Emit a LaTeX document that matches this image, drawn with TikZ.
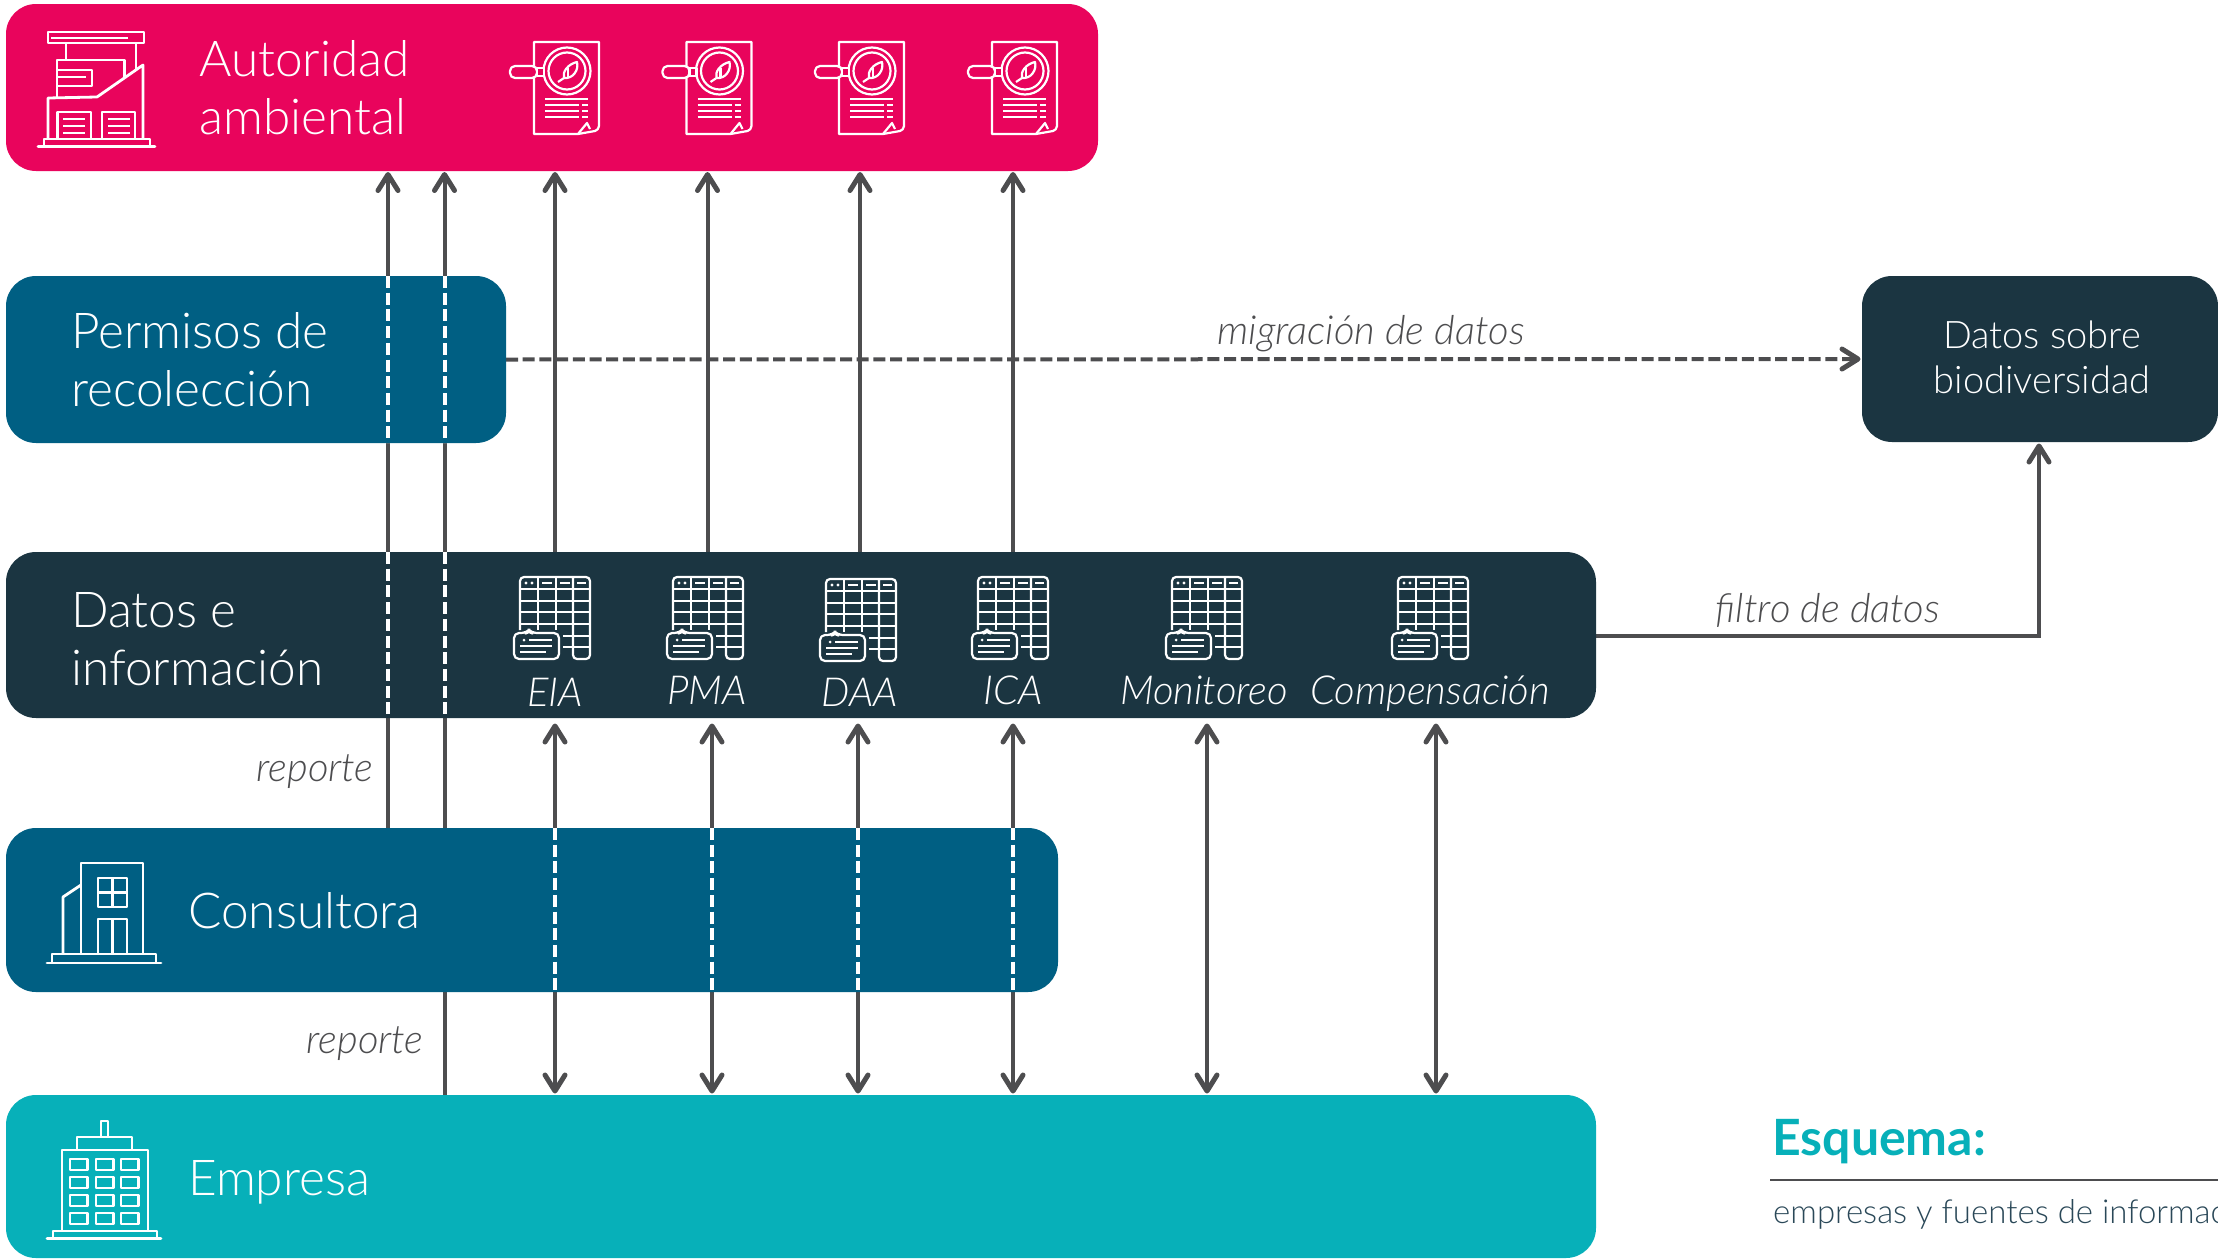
\documentclass[tikz,border=0pt]{standalone}
\usepackage{fontspec}
\setmainfont{Lato}[UprightFont=* Light,ItalicFont=* Light Italic,BoldFont=* Bold]
\usetikzlibrary{arrows.meta,calc}
\definecolor{cpink}{HTML}{E9045C}
\definecolor{cblue}{HTML}{005F83}
\definecolor{cdark}{HTML}{1B3541}
\definecolor{cteal}{HTML}{07B0B9}
\definecolor{cline}{HTML}{4D4D4F}
\definecolor{csub}{HTML}{2A4858}
\pgfdeclarelayer{bg}
\pgfsetlayers{bg,main}
\tikzset{
  x=1pt,y=-1pt,
  box/.style={rectangle,rounded corners=30pt,anchor=north west,inner sep=0pt,outer sep=0pt},
  lab/.style={anchor=base west,inner sep=0pt,text=white,font=\fontsize{49.5}{58}\selectfont,align=left},
  captxt/.style={anchor=base,inner sep=0pt,text=white,font=\fontsize{40}{44}\selectfont\itshape},
  notetxt/.style={anchor=base,inner sep=0pt,text=cline,font=\fontsize{40}{44}\selectfont\itshape},
  conn/.style={draw=cline,line width=4pt},
  barb/.tip={Straight Barb[length=16pt,width=20pt,line width=5pt,round]},
  uparrow/.style={-barb},
  bothends/.style={barb-barb},
  wd/.style={draw=white,line width=4pt,dash pattern=on 12pt off 4.7pt},
  ic/.style={draw=white,line width=2.8pt,fill=none,line join=round},
  ict/.style={draw=white,line width=2.2pt,fill=none,line join=round},
  docicon/.pic={
    \draw[ict] (0,0) -- (65,0) -- (65,84) .. controls (65,87) and (63,88) .. (61,89) -- (44,92) -- (0,92) -- cycle;
    \draw[ict] (44,92) -- (53,81) -- (56,87);
    \draw[ict,fill=cpink] (33,29) circle (23.5);
    \draw[ict] (33,29) circle (18.5);
    \draw[ict] (24,40) -- (30,36) .. controls (28,30) and (34,22) .. (43,20) .. controls (45,28) and (39,37) .. (30,36);
    \draw[ict] (34,26) -- (34,35);
    \draw[ict,rounded corners=5pt,fill=cpink] (-24,24) rectangle (3,36);
    \draw[ict,fill=cpink] (3,26) rectangle (10,34);
    \draw[ict] (11,57) -- (54,57);
    \draw[ict] (11,63) -- (45,63) (48,63) -- (54,63);
    \draw[ict] (11,69) -- (45,69) (48,69) -- (54,69);
    \draw[ict] (11,75) -- (45,75) (48,75) -- (54,75);
  },
  tableicon/.pic={
    \draw[ict,rounded corners=4pt] (0,53) -- (0,0) -- (70,0) -- (70,82) -- (53,82) -- (53,0);
    \draw[ict] (18,0) -- (18,53) (36,0) -- (36,53);
    \draw[ict] (0,12) -- (70,12) (0,24) -- (70,24) (0,35) -- (70,35) (0,47) -- (70,47);
    \draw[ict] (43,59) -- (70,59) (43,70) -- (70,70);
    \draw[ict] (22,6) -- (32,6) (40,6) -- (50,6) (57,6) -- (66,6);
    \fill[white] (6,6) circle (1.6) (12,6) circle (1.6);
    \draw[ict,rounded corners=5pt,fill=cdark] (-6,56) -- (6,56) -- (9,53) -- (12,56) -- (39,56) -- (39,82) -- (-6,82) -- cycle;
    \fill[white] (4,63) circle (1.5);
    \draw[ict] (9,63) -- (32,63) (0,69) -- (32,69) (0,75) -- (26,75);
  }
}
\begin{document}
\begin{tikzpicture}
\useasboundingbox (0,0) rectangle (2218,1258);
\clip (0,0) rectangle (2218,1258);
% boxes
\node[box,fill=cpink,minimum width=1092pt,minimum height=167pt] (aut) at (6,4) {};
\node[box,fill=cblue,minimum width=500pt,minimum height=167pt] (per) at (6,276) {};
\node[box,fill=cdark,minimum width=1590pt,minimum height=166pt] (dat) at (6,552) {};
\node[box,fill=cblue,minimum width=1052pt,minimum height=164pt] (con) at (6,828) {};
\node[box,fill=cteal,minimum width=1590pt,minimum height=163pt] (emp) at (6,1095) {};
\node[box,fill=cdark,minimum width=356pt,minimum height=166pt] (bio) at (1862,276) {};
% x positions of connectors
\coordinate (a1) at (388,0); \coordinate (a2) at (444.5,0);
\coordinate (u1) at (555,0); \coordinate (u2) at (707.5,0); \coordinate (u3) at (860,0); \coordinate (u4) at (1013,0);
\coordinate (l1) at (555,0); \coordinate (l2) at (712,0); \coordinate (l3) at (858,0); \coordinate (l4) at (1013,0); \coordinate (l5) at (1207,0); \coordinate (l6) at (1436,0);
\coordinate (fx) at (2039,0);
\begin{pgfonlayer}{bg}
\draw[conn,uparrow,shorten >=1pt] (con.north -| a1) -- (aut.south -| a1);
\draw[conn,uparrow,shorten >=1pt] (emp.north -| a2) -- (aut.south -| a2);
\foreach \u in {u1,u2,u3,u4}
  \draw[conn,uparrow,shorten >=1pt] (dat.north -| \u) -- (aut.south -| \u);
\foreach \l in {l1,l2,l3,l4,l5,l6}
  \draw[conn,bothends,shorten <=1.5pt,shorten >=5.5pt] (emp.north -| \l) -- (dat.south -| \l);
\draw[conn,uparrow,shorten >=1.5pt] (dat.east |- 0,636) -| (fx |- bio.south);
\draw[conn,uparrow,shorten >=1.5pt,dash pattern=on 12pt off 4.7pt] (per.east) -- (bio.west);
\end{pgfonlayer}
% white dashes over the boxes
\draw[wd] (per.north -| a1) -- (per.south -| a1);
\draw[wd] (per.north -| a2) -- (per.south -| a2);
\draw[wd] (dat.north -| a1) -- (dat.south -| a1);
\draw[wd] (dat.north -| a2) -- (dat.south -| a2);
\foreach \l in {l1,l2,l3,l4}
  \draw[wd] (con.north -| \l) -- (con.south -| \l);
% labels
\node[lab] (tAut) at (199,134) {Autoridad\\ambiental};
\node[lab] (tPer) at (71,406) {Permisos de\\recolección};
\node[lab] (tDat) at (71,685) {Datos e\\información};
\node[lab] (tCon) at (188,928) {Consultora};
\node[lab] (tEmp) at (188,1195) {Empresa};
\node[anchor=base,inner sep=0pt,text=white,align=center,font=\fontsize{38}{45}\selectfont] (tBio) at (2042,393) {Datos sobre\\biodiversidad};
\node[captxt] (cEIA) at (555,706) {EIA};
\node[captxt] (cPMA) at (707,704) {PMA};
\node[captxt] (cDAA) at (860,706) {DAA};
\node[captxt] (cICA) at (1013,704) {ICA};
\node[captxt] (cMon) at (1204,704) {Monitoreo};
\node[captxt] (cCom) at (1430,704) {Compensación};
\node[notetxt] (nMig) at (1371,344) {migración de datos};
\node[notetxt] (nFil) at (1828,622) {filtro de datos};
\node[notetxt] (nRe1) at (315,781) {reporte};
\node[notetxt] (nRe2) at (365,1053) {reporte};
% legend
\node[anchor=base west,inner sep=0pt,text=cteal,font=\fontsize{50}{56}\selectfont\bfseries] (tEsq) at (1772,1155) {Esquema:};
\coordinate (rEnd) at (2218,1180);
\draw[cline,line width=1.6pt] (1770,1180) -- (rEnd);
\node[anchor=base west,inner sep=0pt,text=csub,font=\fontsize{33}{40}\selectfont] (tSub) at (1773,1223) {empresas y fuentes de información};
% icons: authority building
\draw[ic] (48,32) rectangle (144,43);
\draw[ic] (51,38) -- (128,38);
\draw[ic] (66,43) -- (66,60) (136,43) -- (136,70);
\draw[ic] (57,98) -- (57,60) -- (124.5,60) -- (124.5,78);
\draw[ic] (57,70) -- (92,70) -- (92,86) -- (57,86);
\draw[ic] (57,77) -- (86,77);
\draw[ic] (48,139) -- (48,98) -- (97,97) -- (143,65) -- (143,139);
\draw[ic] (57.5,139) -- (57.5,112) -- (91,112) -- (91,139);
\draw[ic] (102,139) -- (102,112) -- (135,112) -- (135,139);
\foreach \yy in {119,126,133} \draw[ic] (63,\yy) -- (85,\yy) (108,\yy) -- (130,\yy);
\draw[ic] (44,146) -- (44,139) -- (150,139) -- (150,146);
\draw[ic,line cap=round] (38,146.5) -- (155,146.5);
% icons: consultant building
\draw[ic] (81,954) -- (81,863) -- (143,863) -- (143,954);
\draw[ic] (63,954) -- (63,897) -- (81,885);
\draw[ic] (98,878) rectangle (127,907);
\draw[ic] (112.5,878) -- (112.5,907) (98,892.5) -- (127,892.5);
\draw[ic] (98,954) -- (98,919) -- (127,919) -- (127,954) (112.5,919) -- (112.5,954);
\draw[ic] (52,962) -- (52,954) -- (156,954) -- (156,962);
\draw[ic,line cap=round] (47,963) -- (161,963);
% icons: company building
\draw[ic] (101,1137) -- (101,1121) -- (108,1121) -- (108,1137);
\draw[ic] (77,1150) -- (77,1137) -- (132,1137) -- (132,1150);
\draw[ic] (62,1231) -- (62,1150) -- (148,1150) -- (148,1231);
\foreach \yy in {1159,1177,1195,1213}
  \foreach \xx in {70,96,121}
    \draw[ic] (\xx,\yy) rectangle ++(17.5,11);
\draw[ic] (53,1238) -- (53,1231) -- (157,1231) -- (157,1238);
\draw[ic,line cap=round] (47,1238.5) -- (161,1238.5);
% document icons
\pic (d1) at (534,42) {docicon};
\pic (d2) at (686.5,42) {docicon};
\pic (d3) at (839,42) {docicon};
\pic (d4) at (992,42) {docicon};
% table icons
\pic (s1) at (520,577) {tableicon};
\pic (s2) at (673,577) {tableicon};
\pic (s3) at (826,579) {tableicon};
\pic (s4) at (978,577) {tableicon};
\pic (s5) at (1172,577) {tableicon};
\pic (s6) at (1398,577) {tableicon};
\end{tikzpicture}
\end{document}
